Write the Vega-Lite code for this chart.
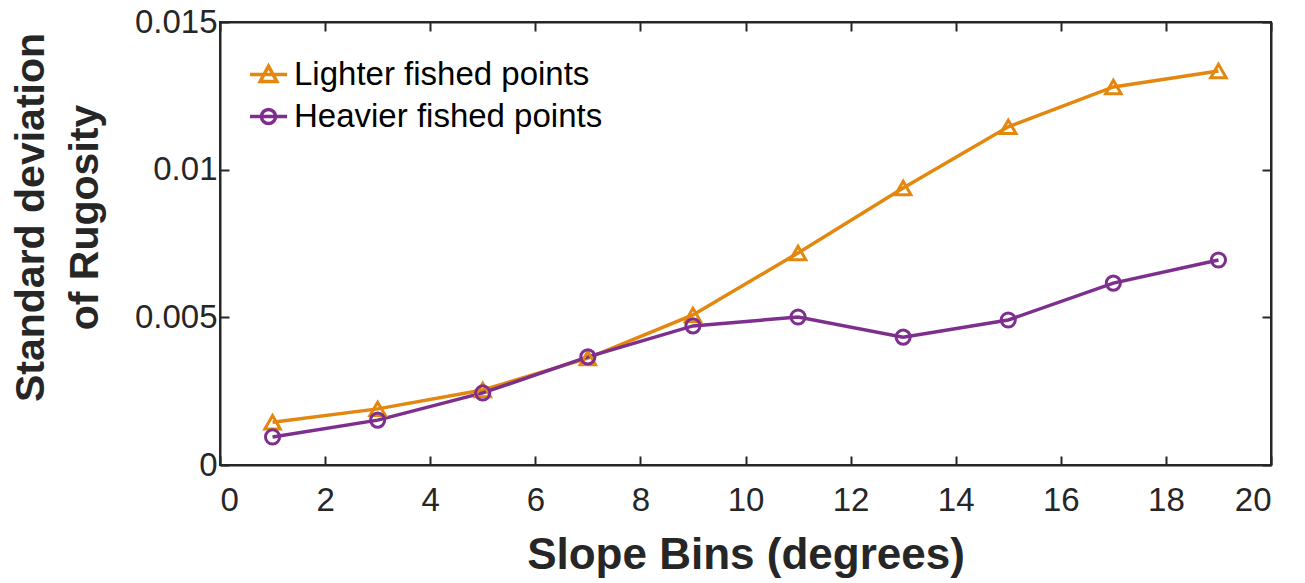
{
  "$schema": "https://vega.github.io/schema/vega-lite/v6.json",
  "width": 1051,
  "height": 443,
  "autosize": {"type": "none"},
  "padding": {"left": 220, "top": 22, "right": 34, "bottom": 118},
  "background": "white",
  "data": {
    "values": [
      {"slope": 1, "sd": 0.00145, "group": "Lighter fished points"},
      {"slope": 3, "sd": 0.0019, "group": "Lighter fished points"},
      {"slope": 5, "sd": 0.00254, "group": "Lighter fished points"},
      {"slope": 7, "sd": 0.00362, "group": "Lighter fished points"},
      {"slope": 9, "sd": 0.00508, "group": "Lighter fished points"},
      {"slope": 11, "sd": 0.00718, "group": "Lighter fished points"},
      {"slope": 13, "sd": 0.00938, "group": "Lighter fished points"},
      {"slope": 15, "sd": 0.01145, "group": "Lighter fished points"},
      {"slope": 17, "sd": 0.0128, "group": "Lighter fished points"},
      {"slope": 19, "sd": 0.01334, "group": "Lighter fished points"},
      {"slope": 1, "sd": 0.00095, "group": "Heavier fished points"},
      {"slope": 3, "sd": 0.00152, "group": "Heavier fished points"},
      {"slope": 5, "sd": 0.00244, "group": "Heavier fished points"},
      {"slope": 7, "sd": 0.00366, "group": "Heavier fished points"},
      {"slope": 9, "sd": 0.00471, "group": "Heavier fished points"},
      {"slope": 11, "sd": 0.00501, "group": "Heavier fished points"},
      {"slope": 13, "sd": 0.00433, "group": "Heavier fished points"},
      {"slope": 15, "sd": 0.00491, "group": "Heavier fished points"},
      {"slope": 17, "sd": 0.00616, "group": "Heavier fished points"},
      {"slope": 19, "sd": 0.00694, "group": "Heavier fished points"}
    ]
  },
  "layer": [
    {
      "mark": {"type": "line", "strokeWidth": 3.5},
      "encoding": {
        "x": {
          "field": "slope", "type": "quantitative",
          "scale": {"domain": [0, 20], "nice": false, "zero": false},
          "axis": {"orient": "bottom", "values": [0,2,4,6,8,10,12,14,16,18,20], "title": "Slope Bins (degrees)", "titlePadding": 16, "labelPadding": 28}
        },
        "y": {
          "field": "sd", "type": "quantitative",
          "scale": {"domain": [0, 0.015], "nice": false},
          "axis": {"orient": "left", "values": [0, 0.005, 0.01, 0.015], "labelExpr": "datum.value === 0 ? '0' : format(datum.value, '~g')",
            "title": ["Standard deviation", "of Rugosity"], "titlePadding": 28, "labelPadding": 12, "titleFontSize": 41, "titleLineHeight": 54, "titleY": 195}
        },
        "color": {
          "field": "group", "type": "nominal",
          "scale": {"domain": ["Lighter fished points", "Heavier fished points"], "range": ["#E3870E", "#7E2F8E"]},
          "legend": {"title": null}
        },
        "detail": {"field": "group"}
      }
    },
    {
      "transform": [{"filter": "datum.group === 'Lighter fished points'"}],
      "mark": {"type": "point", "shape": "triangle-up", "filled": false, "strokeWidth": 3, "size": 240, "opacity": 1},
      "encoding": {
        "x": {"field": "slope", "type": "quantitative", "axis": null},
        "y": {"field": "sd", "type": "quantitative", "axis": null},
        "color": {"field": "group", "type": "nominal", "legend": {"title": null}}
      }
    },
    {
      "transform": [{"filter": "datum.group === 'Heavier fished points'"}],
      "mark": {"type": "point", "shape": "circle", "filled": false, "strokeWidth": 3, "size": 200, "opacity": 1},
      "encoding": {
        "x": {"field": "slope", "type": "quantitative", "axis": null},
        "y": {"field": "sd", "type": "quantitative", "axis": null},
        "color": {"field": "group", "type": "nominal", "legend": {"title": null}}
      }
    },
    {
      "mark": {"type": "point", "opacity": 0, "filled": false},
      "encoding": {
        "x": {"field": "slope", "type": "quantitative", "axis": {"orient": "top", "values": [0,2,4,6,8,10,12,14,16,18,20], "labels": false, "title": null, "domain": true}},
        "y": {"field": "sd", "type": "quantitative", "axis": {"orient": "right", "values": [0, 0.005, 0.01, 0.015], "labels": false, "title": null, "domain": true}},
        "color": {"field": "group", "type": "nominal", "legend": {"title": null}},
        "shape": {
          "field": "group", "type": "nominal",
          "scale": {"domain": ["Lighter fished points", "Heavier fished points"], "range": ["M-1,0L1,0M0,-0.45L0.45,0.38L-0.45,0.38Z", "M-1,0L1,0M0.38,0A0.38,0.38,0,1,1,-0.38,0A0.38,0.38,0,1,1,0.38,0"]},
          "legend": {"title": null}
        }
      }
    }
  ],
  "resolve": {"axis": {"x": "independent", "y": "independent"}},
  "config": {
    "view": {"stroke": "#262626", "strokeWidth": 2},
    "axis": {
      "grid": false, "zindex": 1,
      "domainColor": "#262626", "domainWidth": 2,
      "tickColor": "#262626", "tickWidth": 2, "tickSize": -9,
      "labelFont": "Liberation Sans", "labelFontSize": 33, "labelColor": "#262626",
      "titleFont": "Liberation Sans", "titleFontSize": 44, "titleFontWeight": "bold", "titleColor": "#262626"
    },
    "legend": {
      "orient": "none", "legendX": 28, "legendY": 32,
      "symbolSize": 1369, "symbolStrokeWidth": 3.5, "symbolOpacity": 1, "symbolFillColor": "transparent",
      "labelFontSize": 33, "labelColor": "#000000", "labelFont": "Liberation Sans", "labelLimit": 0,
      "labelOffset": 5, "rowPadding": 4, "padding": 0
    }
  }
}
